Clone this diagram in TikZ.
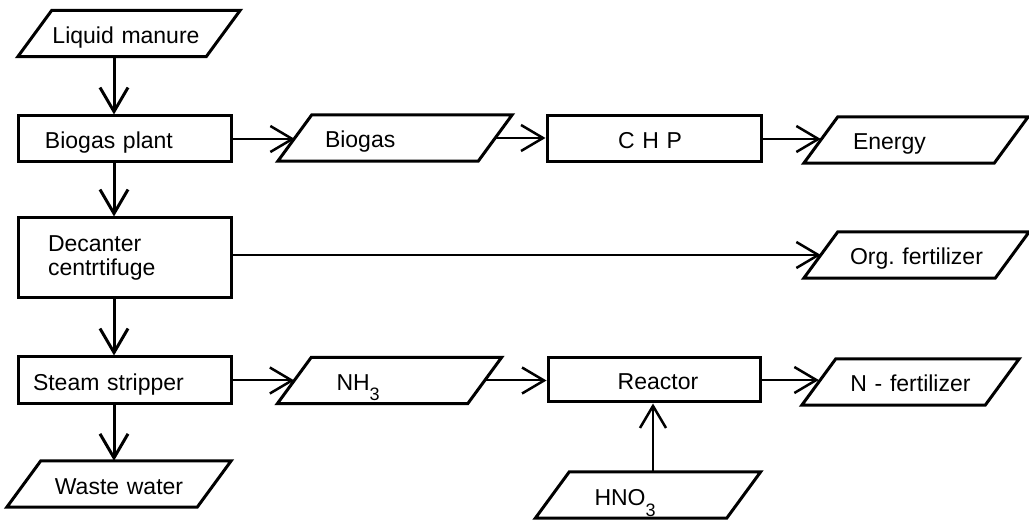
\documentclass[tikz,border=0pt]{standalone}
\usepackage{fontspec}
\setmainfont{Liberation Sans}
\usetikzlibrary{arrows.meta}
\frenchspacing
\begin{document}
\begin{tikzpicture}[x=1pt,y=-1pt,
  every node/.style={font=\fontsize{23}{24}\selectfont, inner sep=0pt},
  oneline/.style={text height=20pt, text depth=0pt},
  boxnode/.style={draw, line width=3pt, rectangle, minimum height=#1},
  paranode/.style={rectangle, minimum height=46pt, text width=#1, oneline},
  paraline/.style={line width=3pt, line join=miter},
  varrow/.style={line width=3pt, -{Straight Barb[length=24pt,width=28pt,line width=3pt]}},
  harrow/.style={line width=2pt, -{Straight Barb[length=22pt,width=26pt,line width=2.5pt]}}
]
\fill[white] (0,0) rectangle (1029,521);
\useasboundingbox (0,0) rectangle (1029,521);

% process boxes
\node[boxnode=46pt, oneline, text width=213pt, align=left] (bp) at (124.5,139) {\hspace*{27pt}Biogas plant};
\node[boxnode=80pt, text width=213pt, align=left] (dc) at (124.5,258) {\hspace*{30pt}Decanter\\\hspace*{30pt}centrtifuge};
\node[boxnode=47pt, oneline, text width=213pt, align=left] (ss) at (124.5,380.5) {\hspace*{15pt}Steam stripper};
\node[boxnode=46pt, oneline, text width=214pt, align=center] (chp) at (654,139) {\hspace*{-8pt}C H P};
\node[boxnode=44pt, oneline, text width=212pt, align=center] (re) at (654,380) {\hspace*{8pt}Reactor};

% parallelogram nodes
\node[paranode=188pt, align=center] (lm) at (129,33.5) {\hspace*{-6pt}Liquid manure};
\node[paranode=200pt, align=left] (bg) at (395,138) {\hspace*{30pt}Biogas};
\node[paranode=190pt, align=left] (en) at (916,140) {\hspace*{32pt}Energy};
\node[paranode=191pt, align=center] (org) at (916.5,255) {Org. fertilizer};
\node[paranode=190pt, align=left] (nh) at (389.5,380.5) {\hspace*{42pt}NH\smash{\raisebox{-10pt}{\fontsize{18}{18}\selectfont 3}}};
\node[paranode=183pt, align=center] (nf) at (910.5,382) {N - fertilizer};
\node[paranode=191pt, align=left] (hno) at (648,495) {\hspace*{42pt}HNO\smash{\raisebox{-11pt}{\fontsize{18}{18}\selectfont 3}}};
\node[paranode=190pt, align=center] (ww) at (119,484) {Waste water};

\foreach \n in {lm,bg,en,org,nh,nf,hno,ww}
  \draw[paraline] ([xshift=17pt]\n.north west) -- ([xshift=17pt]\n.north east)
    -- ([xshift=-17pt]\n.south east) -- ([xshift=-17pt]\n.south west) -- cycle;

% connectors
\coordinate (col) at (114,0);
\coordinate (hx) at (653,0);
\draw[varrow] (lm.south -| col) -- (bp.north -| col);
\draw[varrow] (bp.south -| col) -- (dc.north -| col);
\draw[varrow] (dc.south -| col) -- (ss.north -| col);
\draw[varrow] (ss.south -| col) -- (ww.north -| col);

\draw[harrow] (bp.east) -- (bp.east -| bg.west);
\draw[harrow] (bg.east) -- (bg.east -| chp.west);
\draw[harrow] (chp.east) -- (chp.east -| en.west);
\draw[harrow] (org.west -| dc.east) -- (org.west);
\draw[harrow] (ss.east) -- (ss.east -| nh.west);
\draw[harrow] (nh.east) -- (nh.east -| re.west);
\draw[harrow] (re.east) -- (re.east -| nf.west);
\draw[harrow] (hno.north -| hx) -- (re.south -| hx);
\end{tikzpicture}
\end{document}
